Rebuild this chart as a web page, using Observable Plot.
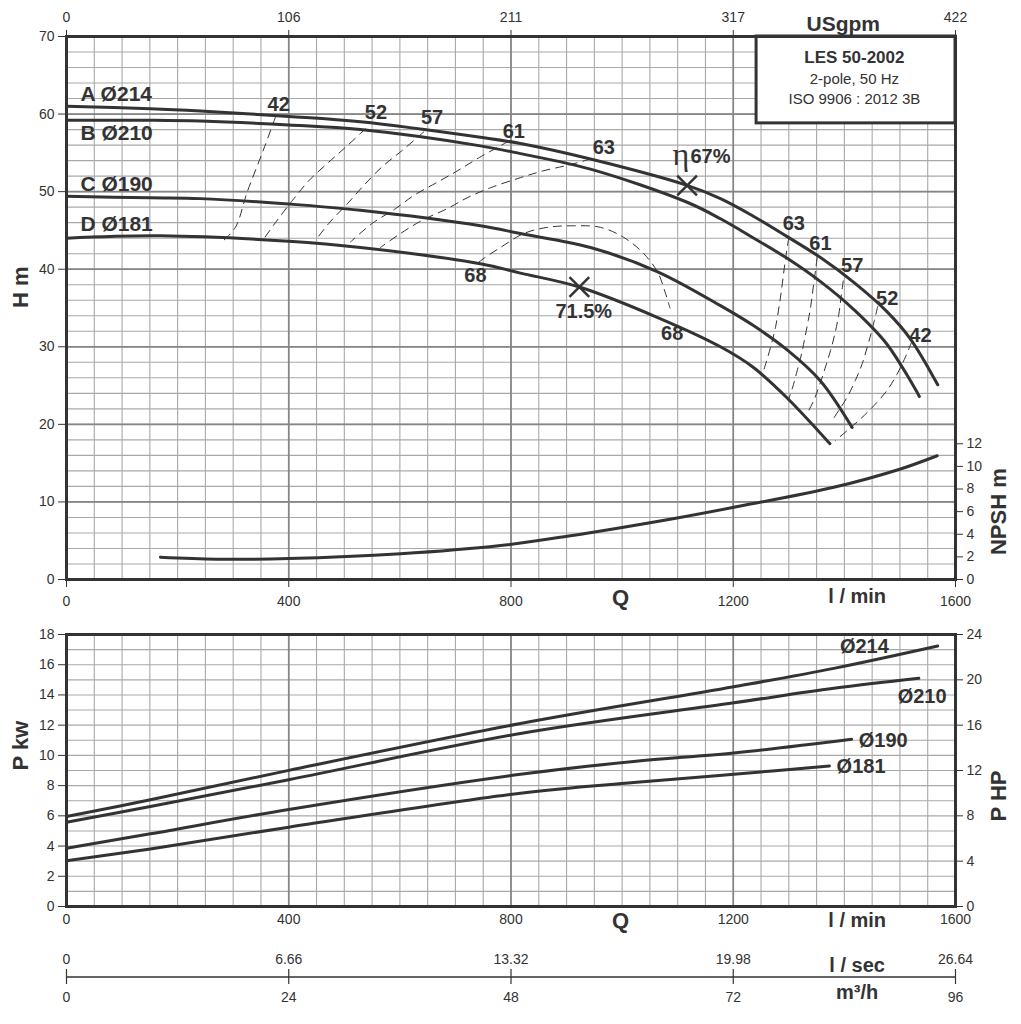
<!DOCTYPE html>
<html><head><meta charset="utf-8">
<script src="https://cdn.jsdelivr.net/npm/d3@7"></script>
<script src="https://cdn.jsdelivr.net/npm/@observablehq/plot@0.6"></script>
<style>
body{margin:0;background:#fff;}
#chart{width:1021px;}
#chart svg{display:block;}
</style></head><body><div id="chart"></div>
<script>
// ---------- tick labels ----------
const Q_TICKS = [0, 400, 800, 1200, 1600];
const USGPM_LABELS = ["0", "106", "211", "317", "422"];
const LSEC_LABELS = ["0", "6.66", "13.32", "19.98", "26.64"];
const M3H_LABELS = ["0", "24", "48", "72", "96"];
const H_TICKS = [0, 10, 20, 30, 40, 50, 60, 70];
const NPSH_TICKS = [0, 2, 4, 6, 8, 10, 12];
const P_TICKS = [0, 2, 4, 6, 8, 10, 12, 14, 16, 18];
const HP_TICKS = [0, 4, 8, 12, 16, 20, 24];

// ---------- head curves [Q l/min, H m] ----------
const headA = [[0,61.0],[151,60.7],[241,60.4],[400,59.7],[529,59.0],[745,57.0],[817,56.2],[943,54.2],[1117,50.8],[1177,49.1],[1237,46.8],[1297,44.2],[1357,41.5],[1417,38.3],[1477,34.5],[1519,31.0],[1568,25.1]];
const headB = [[0,59.2],[151,59.2],[241,59.1],[400,58.6],[529,58.0],[745,55.9],[817,54.9],[943,52.9],[1118,48.6],[1177,46.5],[1237,44.0],[1297,41.4],[1357,38.4],[1417,34.8],[1477,30.3],[1535,23.6]];
const headC = [[0,49.4],[151,49.2],[241,49.1],[400,48.4],[529,47.6],[745,45.6],[817,44.6],[943,42.8],[1063,39.7],[1177,35.3],[1237,32.7],[1297,29.6],[1357,25.6],[1414,19.6]];
const headD = [[0,44.0],[169,44.3],[400,43.6],[529,42.8],[745,40.7],[817,39.5],[923,37.7],[1063,33.8],[1177,30.0],[1237,27.3],[1297,23.4],[1374,17.5]];
const headNames = ["A Ø214", "B Ø210", "C Ø190", "D Ø181"];

// ---------- NPSH [Q, NPSH m] ----------
const npsh = [[169,1.97],[270,1.8],[400,1.85],[601,2.27],[781,3.0],[901,3.82],[1099,5.44],[1201,6.38],[1381,8.15],[1501,9.77],[1567,10.94]];

// ---------- efficiency iso-lines [Q, H] ----------
const eff42L = [[376,59.6],[355,55.5],[325,49.9],[304,45.4],[281,43.6]];
const eff52L = [[538,58.1],[505,55.9],[472,53.8],[436,51.4],[407,48.9],[376,46.0],[355,43.9]];
const eff57L = [[643,57.7],[604,55.3],[568,53.2],[535,50.8],[505,48.4],[472,45.9],[448,43.7]];
const eff61L = [[796,56.5],[743,54.4],[704,52.7],[667,51.2],[625,49.5],[592,47.8],[550,45.9],[511,43.5]];
const eff63L = [[943,54.2],[902,53.4],[859,52.7],[817,51.8],[763,50.5],[721,49.2],[685,47.8],[640,46.3],[601,44.6],[565,42.8]];
const eff68 = [[742,40.9],[751,41.4],[781,42.8],[823,44.6],[866,45.4],[913,45.6],[961,45.4],[1003,44.1],[1039,42.0],[1064,39.6],[1078,36.9],[1086,35.0]];
const eff63R = [[1300,44.1],[1294,41.3],[1285,36.4],[1276,32.5],[1267,29.9],[1255,27.0]];
const eff61R = [[1351,41.5],[1348,39.8],[1344,37.7],[1340,35.5],[1335,33.4],[1329,31.2],[1323,29.1],[1315,26.9],[1307,24.8],[1299,23.1]];
const eff57R = [[1398,38.5],[1394,36.4],[1390,34.2],[1383,31.7],[1375,29.5],[1366,27.4],[1356,25.2],[1345,23.1],[1333,21.4]];
const eff52R = [[1460,35.2],[1454,33.4],[1448,31.7],[1441,29.9],[1432,27.8],[1420,25.7],[1405,23.5],[1390,21.8],[1378,20.5]];
const eff42R = [[1521,30.6],[1510,28.7],[1495,26.5],[1477,24.4],[1453,22.4],[1429,20.7],[1405,19.2],[1384,17.9]];

// efficiency labels [Q, H, text]
const effLabels = [[382,61.2,"42"],[557,60.2,"52"],[658,59.5,"57"],[805,57.8,"61"],[967,55.7,"63"],
  [736,39.2,"68"],[1090,31.7,"68"],[931,34.6,"71.5%"],
  [1309,45.9,"63"],[1357,43.3,"61"],[1414,40.5,"57"],[1477,36.2,"52"],[1537,31.5,"42"]];
// best efficiency points [Q, H]
const bep = [[1117,50.8],[923,37.7]];
const headLabelPos = [[25,62.5],[25,57.5],[25,50.9],[25,45.8]];

// ---------- power [Q, P kW] ----------
const p214 = [[0,5.96],[151,7.06],[400,9.01],[817,12.11],[1201,14.54],[1381,15.76],[1568,17.24]];
const p210 = [[0,5.58],[151,6.62],[400,8.39],[817,11.45],[1201,13.48],[1381,14.44],[1534,15.1]];
const p190 = [[0,3.85],[151,4.81],[400,6.42],[817,8.75],[1021,9.6],[1201,10.16],[1413,11.07]];
const p181 = [[0,3.03],[151,3.81],[400,5.25],[817,7.5],[1021,8.2],[1201,8.75],[1373,9.3]];
const powerLabels = [[1436,17.2,"Ø214"],[1540,13.9,"Ø210"],[1470,11.0,"Ø190"],[1430,9.23,"Ø181"]];

const LEGEND_TITLE = "LES 50-2002";
const LEGEND_LINES = ["2-pole, 50 Hz", "ISO 9906 : 2012 3B"];

// ---------- helpers ----------
const FONT = "'Liberation Sans', Arial, Helvetica, sans-serif";
const INK = "#333";
const NPSH_K = 70 / 48;   // NPSH axis 0..48 over H axis 0..70
const HP_K = 18 / 24;     // HP axis 0..24 over kW axis 0..18
const toRows = (pairs) => pairs.flatMap(([k, pts]) => pts.map(([q, v]) => ({k, q, v})));
const style = {fontFamily: FONT, fontSize: "14px", color: INK, background: "#fff", overflow: "visible"};
const minorGrid = {stroke: "#a9a9a9", strokeWidth: 1.1};
const majorGrid = {stroke: "#858585", strokeWidth: 1.7};
const plain = d => String(d);

const heads = toRows([["A", headA], ["B", headB], ["C", headC], ["D", headD]]);
const effs = toRows([["42L", eff42L], ["52L", eff52L], ["57L", eff57L], ["61L", eff61L], ["63L", eff63L], ["68", eff68],
  ["63R", eff63R], ["61R", eff61R], ["57R", eff57R], ["52R", eff52R], ["42R", eff42R]]);
const powers = toRows([["214", p214], ["210", p210], ["190", p190], ["181", p181]]);

const topPlot = Plot.plot({
  width: 1021, height: 616,
  marginTop: 36, marginBottom: 37, marginLeft: 66, marginRight: 66,
  x: {domain: [0, 1600]},
  y: {domain: [0, 70]},
  style,
  marks: [
    Plot.ruleX(d3.range(0, 1601, 50), minorGrid),
    Plot.ruleY(d3.range(0, 71, 2), minorGrid),
    Plot.ruleX([400, 800, 1200], majorGrid),
    Plot.ruleY([10, 20, 30, 40, 50, 60], majorGrid),
    Plot.rect([0], {x1: 1242, x2: 1600, y1: 58.8, y2: 70, fill: "#fff", stroke: INK, strokeWidth: 3}),
    Plot.text([LEGEND_TITLE], {x: [1418], y: [67.3], fontSize: 17, fontWeight: "bold", fill: INK}),
    Plot.text(LEGEND_LINES, {x: () => 1418, y: (d, i) => [64.5, 61.9][i], text: d => d, fontSize: 15, fill: INK}),
    Plot.line(effs, {x: "q", y: "v", z: "k", curve: "catmull-rom", stroke: INK, strokeWidth: 1, strokeDasharray: "8,6"}),
    Plot.line(heads, {x: "q", y: "v", z: "k", curve: "catmull-rom", stroke: INK, strokeWidth: 3}),
    Plot.line(npsh, {x: d => d[0], y: d => d[1] * NPSH_K, curve: "catmull-rom", stroke: INK, strokeWidth: 3}),
    Plot.dot(bep, {x: d => d[0], y: d => d[1], symbol: "times", r: 9, stroke: INK, strokeWidth: 2.5}),
    Plot.text(headNames, {x: (d, i) => headLabelPos[i][0], y: (d, i) => headLabelPos[i][1], text: d => d,
      textAnchor: "start", fontSize: 21, fontWeight: "bold", fill: INK}),
    Plot.text(effLabels, {x: d => d[0], y: d => d[1], text: d => d[2], fontSize: 20, fontWeight: "bold", fill: INK}),
    Plot.text(["η"], {x: [1121], y: [54.8], textAnchor: "end", fontSize: 32, fontFamily: "'Liberation Serif', 'DejaVu Serif', serif", fill: INK}),
    Plot.text(["67%"], {x: [1123], y: [54.5], textAnchor: "start", fontSize: 20, fontWeight: "bold", fill: INK}),
    Plot.text(["USgpm"], {x: [1398], frameAnchor: "top", dy: -20, fontSize: 21, fontWeight: "bold", fill: INK}),
    Plot.text(["Q"], {x: [997], frameAnchor: "bottom", dy: 25, fontSize: 22, fontWeight: "bold", fill: INK}),
    Plot.text(["l / min"], {x: [1423], frameAnchor: "bottom", dy: 23, fontSize: 20, fontWeight: "bold", fill: INK}),
    Plot.text(["H m"], {frameAnchor: "left", dx: -46, rotate: -90, fontSize: 22, fontWeight: "bold", fill: INK}),
    Plot.text(["NPSH m"], {x: [1600], y: [6 * NPSH_K], dx: 43, rotate: -90, fontSize: 22, fontWeight: "bold", fill: INK}),
    Plot.axisY(H_TICKS, {anchor: "left", tickSize: 8, tickPadding: 4, label: null, fontSize: 14, tickFormat: plain}),
    Plot.axisY(NPSH_TICKS.map(v => v * NPSH_K), {anchor: "right", tickSize: 7, tickPadding: 4, label: null, fontSize: 14,
      tickFormat: d => String(Math.round(d / NPSH_K))}),
    Plot.axisX(Q_TICKS, {anchor: "top", tickSize: 7, tickPadding: 8, label: null, fontSize: 14,
      tickFormat: d => USGPM_LABELS[Q_TICKS.indexOf(d)]}),
    Plot.axisX(Q_TICKS, {anchor: "bottom", tickSize: 8, tickPadding: 9, label: null, fontSize: 14, tickFormat: plain}),
    Plot.frame({stroke: INK, strokeWidth: 3})
  ]
});

const bottomPlot = Plot.plot({
  width: 1021, height: 330,
  marginTop: 18, marginBottom: 40, marginLeft: 66, marginRight: 66,
  x: {domain: [0, 1600]},
  y: {domain: [0, 18]},
  style,
  marks: [
    Plot.ruleX(d3.range(0, 1601, 50), minorGrid),
    Plot.ruleY(d3.range(0, 19, 1), minorGrid),
    Plot.ruleX([400, 800, 1200], majorGrid),
    Plot.line(powers, {x: "q", y: "v", z: "k", curve: "catmull-rom", stroke: INK, strokeWidth: 3}),
    Plot.text(powerLabels, {x: d => d[0], y: d => d[1], text: d => d[2], fontSize: 20, fontWeight: "bold", fill: INK}),
    Plot.text(["Q"], {x: [997], frameAnchor: "bottom", dy: 21, fontSize: 22, fontWeight: "bold", fill: INK}),
    Plot.text(["l / min"], {x: [1423], frameAnchor: "bottom", dy: 20, fontSize: 20, fontWeight: "bold", fill: INK}),
    Plot.text(["P kw"], {frameAnchor: "left", dx: -46, rotate: -90, fontSize: 22, fontWeight: "bold", fill: INK}),
    Plot.text(["P HP"], {frameAnchor: "right", dx: 43, rotate: -90, fontSize: 22, fontWeight: "bold", fill: INK}),
    Plot.axisY(P_TICKS, {anchor: "left", tickSize: 8, tickPadding: 4, label: null, fontSize: 14, tickFormat: plain}),
    Plot.axisY(HP_TICKS.map(v => v * HP_K), {anchor: "right", tickSize: 7, tickPadding: 4, label: null, fontSize: 14,
      tickFormat: d => String(Math.round(d / HP_K))}),
    Plot.axisX(Q_TICKS, {anchor: "bottom", tickSize: 0, tickPadding: 8, label: null, fontSize: 14, tickFormat: plain}),
    Plot.frame({stroke: INK, strokeWidth: 3})
  ]
});

const flowPlot = Plot.plot({
  width: 1021, height: 78,
  marginTop: 23, marginBottom: 40, marginLeft: 66, marginRight: 66,
  x: {domain: [0, 1600]},
  y: {domain: [0, 1], axis: null},
  style,
  marks: [
    Plot.ruleY([0.5], {stroke: INK, strokeWidth: 1.5}),
    Plot.ruleX(Q_TICKS, {stroke: INK, strokeWidth: 1.2}),
    Plot.axisX(Q_TICKS, {anchor: "top", tickSize: 0, tickPadding: 6, label: null, fontSize: 14,
      tickFormat: d => LSEC_LABELS[Q_TICKS.indexOf(d)]}),
    Plot.axisX(Q_TICKS, {anchor: "bottom", tickSize: 0, tickPadding: 8, label: null, fontSize: 14,
      tickFormat: d => M3H_LABELS[Q_TICKS.indexOf(d)]}),
    Plot.text(["l / sec"], {x: [1423], frameAnchor: "top", dy: -12, fontSize: 20, fontWeight: "bold", fill: INK}),
    Plot.text(["m³/h"], {x: [1423], frameAnchor: "bottom", dy: 14, fontSize: 20, fontWeight: "bold", fill: INK})
  ]
});

const root = document.getElementById("chart");
root.append(topPlot, bottomPlot, flowPlot);
</script></body></html>
